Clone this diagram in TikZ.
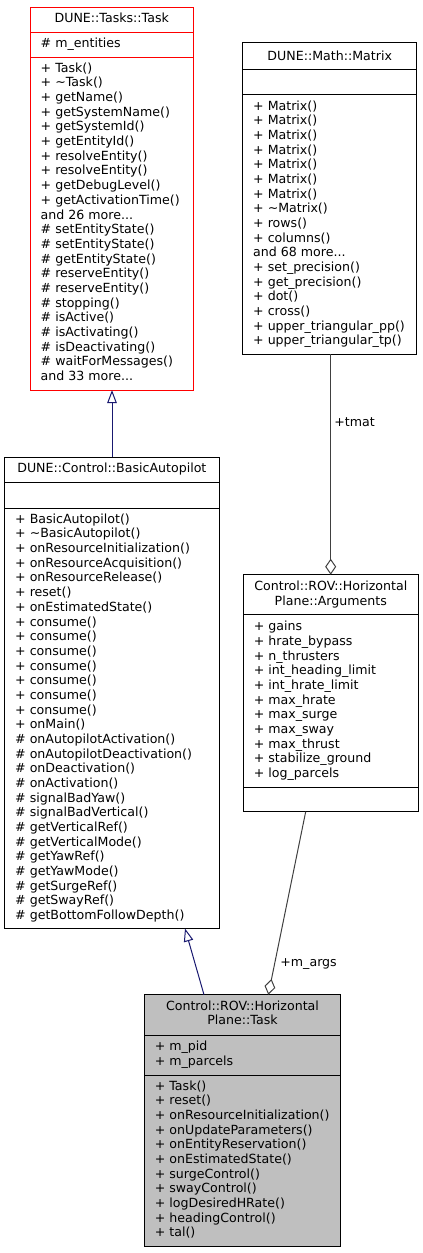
\documentclass[tikz,border=0pt]{standalone}
\usepackage{fontspec}
\setmainfont{DejaVu Sans}
\usetikzlibrary{arrows.meta,calc}
\definecolor{navy}{RGB}{25,25,112}
\definecolor{edgegrey}{RGB}{64,64,64}
\definecolor{boxgrey}{RGB}{191,191,191}
\definecolor{taskred}{RGB}{255,0,0}
\newcommand{\tld}{\textasciitilde}
\begin{document}
\begin{tikzpicture}[x=1pt,y=-1pt,
  box/.style={draw, line width=1pt, anchor=north west, inner sep=0pt, outer sep=0pt},
  txt/.style={font=\fontsize{12.6}{14.67}\selectfont, inner sep=0pt, outer sep=0pt, align=left, anchor=north west},
  ttl/.style={font=\fontsize{12.6}{14.67}\selectfont, inner sep=0pt, outer sep=0pt, align=center, anchor=north},
  lbl/.style={font=\fontsize{12.6}{14.67}\selectfont, inner sep=0pt, outer sep=0pt, anchor=base west},
  inh/.style={draw=navy, line width=1pt, -{Triangle[open,length=13pt,width=9.5pt,line width=1pt]}},
  agg/.style={draw=edgegrey, line width=1pt, -{Diamond[open,length=16pt,width=11pt,line width=1pt]}}
]
\useasboundingbox (0,0) rectangle (423,1253);

% ---------- DUNE::Tasks::Task ----------
\node[box, draw=taskred, minimum width=162.5pt, minimum height=383pt] (task) at (30.5,7) {};
\coordinate (ts1) at (0,32); \coordinate (ts2) at (0,57);
\draw[taskred, line width=1pt] (task.west |- ts1) -- (task.east |- ts1);
\draw[taskred, line width=1pt] (task.west |- ts2) -- (task.east |- ts2);
\node[ttl] (tasktitle) at (111.75,12.73) {\strut DUNE::Tasks::Task};
\node[txt] (taskattr) at (40.7,37.43) {\strut\# m\_entities};
\node[txt] (taskmeth) at (40.7,62.03) {\strut + Task()\\+ \tld Task()\\+ getName()\\+ getSystemName()\\+ getSystemId()\\+ getEntityId()\\+ resolveEntity()\\+ resolveEntity()\\+ getDebugLevel()\\+ getActivationTime()\\and 26 more...\\\# setEntityState()\\\# setEntityState()\\\# getEntityState()\\\# reserveEntity()\\\# reserveEntity()\\\# stopping()\\\# isActive()\\\# isActivating()\\\# isDeactivating()\\\# waitForMessages()\\and 33 more...};

% ---------- DUNE::Math::Matrix ----------
\node[box, minimum width=174pt, minimum height=311.3pt] (matrix) at (242.7,42.7) {};
\coordinate (ms1) at (0,69.3); \coordinate (ms2) at (0,94);
\draw[line width=1pt] (matrix.west |- ms1) -- (matrix.east |- ms1);
\draw[line width=1pt] (matrix.west |- ms2) -- (matrix.east |- ms2);
\node[ttl] (matrixtitle) at (329.7,49.73) {\strut DUNE::Math::Matrix};
\node[txt] (matrixmeth) at (253.2,99.73) {\strut + Matrix()\\+ Matrix()\\+ Matrix()\\+ Matrix()\\+ Matrix()\\+ Matrix()\\+ Matrix()\\+ \tld Matrix()\\+ rows()\\+ columns()\\and 68 more...\\+ set\_precision()\\+ get\_precision()\\+ dot()\\+ cross()\\+ upper\_triangular\_pp()\\+ upper\_triangular\_tp()};

% ---------- DUNE::Control::BasicAutopilot ----------
\node[box, minimum width=214.3pt, minimum height=471.5pt] (basic) at (4.7,457) {};
\coordinate (bs1) at (0,482.7); \coordinate (bs2) at (0,508.3);
\draw[line width=1pt] (basic.west |- bs1) -- (basic.east |- bs1);
\draw[line width=1pt] (basic.west |- bs2) -- (basic.east |- bs2);
\node[ttl] (basictitle) at (111.85,462.43) {\strut DUNE::Control::BasicAutopilot};
\node[txt] (basicmeth) at (15.2,513.03) {\strut + BasicAutopilot()\\+ \tld BasicAutopilot()\\+ onResourceInitialization()\\+ onResourceAcquisition()\\+ onResourceRelease()\\+ reset()\\+ onEstimatedState()\\+ consume()\\+ consume()\\+ consume()\\+ consume()\\+ consume()\\+ consume()\\+ consume()\\+ onMain()\\\# onAutopilotActivation()\\\# onAutopilotDeactivation()\\\# onDeactivation()\\\# onActivation()\\\# signalBadYaw()\\\# signalBadVertical()\\\# getVerticalRef()\\\# getVerticalMode()\\\# getYawRef()\\\# getYawMode()\\\# getSurgeRef()\\\# getSwayRef()\\\# getBottomFollowDepth()};

% ---------- Control::ROV::HorizontalPlane::Arguments ----------
\node[box, minimum width=175pt, minimum height=237pt] (args) at (243.3,574.7) {};
\coordinate (as1) at (0,614.3); \coordinate (as2) at (0,787.3);
\draw[line width=1pt] (args.west |- as1) -- (args.east |- as1);
\draw[line width=1pt] (args.west |- as2) -- (args.east |- as2);
\node[ttl] (argstitle) at (330.8,580.43) {\strut Control::ROV::Horizontal\\Plane::Arguments};
\node[txt] (argsattr) at (253.8,620.43) {\strut + gains\\+ hrate\_bypass\\+ n\_thrusters\\+ int\_heading\_limit\\+ int\_hrate\_limit\\+ max\_hrate\\+ max\_surge\\+ max\_sway\\+ max\_thrust\\+ stabilize\_ground\\+ log\_parcels};

% ---------- Control::ROV::HorizontalPlane::Task ----------
\node[box, fill=boxgrey, minimum width=196.4pt, minimum height=252pt] (hp) at (144.3,994.7) {};
\coordinate (hs1) at (0,1035.7); \coordinate (hs2) at (0,1075.7);
\draw[line width=1pt] (hp.west |- hs1) -- (hp.east |- hs1);
\draw[line width=1pt] (hp.west |- hs2) -- (hp.east |- hs2);
\node[ttl] (hptitle) at (242.5,999.73) {\strut Control::ROV::Horizontal\\Plane::Task};
\node[txt] (hpattr) at (154.8,1040.43) {\strut + m\_pid\\+ m\_parcels};
\node[txt] (hpmeth) at (154.8,1079.73) {\strut + Task()\\+ reset()\\+ onResourceInitialization()\\+ onUpdateParameters()\\+ onEntityReservation()\\+ onEstimatedState()\\+ surgeControl()\\+ swayControl()\\+ logDesiredHRate()\\+ headingControl()\\+ tal()};

% ---------- connectors ----------
\coordinate (xa) at (112,0);
\draw[inh] (basic.north -| xa) -- (task.south -| xa);
\draw[inh] ($(hp.north west)+(59.7,0)$) -- ($(basic.south west)+(180.3,0)$);
\coordinate (xm) at (330.7,0);
\draw[agg] (matrix.south -| xm) -- (args.north -| xm);
\node[lbl] (tmatlbl) at (334.4,426.7) {+tmat};
\draw[agg] ($(args.south west)+(62.4,0)$) -- ($(hp.north west)+(124,0)$);
\node[lbl] (margslbl) at (280.4,966) {+m\_args};
\end{tikzpicture}
\end{document}
